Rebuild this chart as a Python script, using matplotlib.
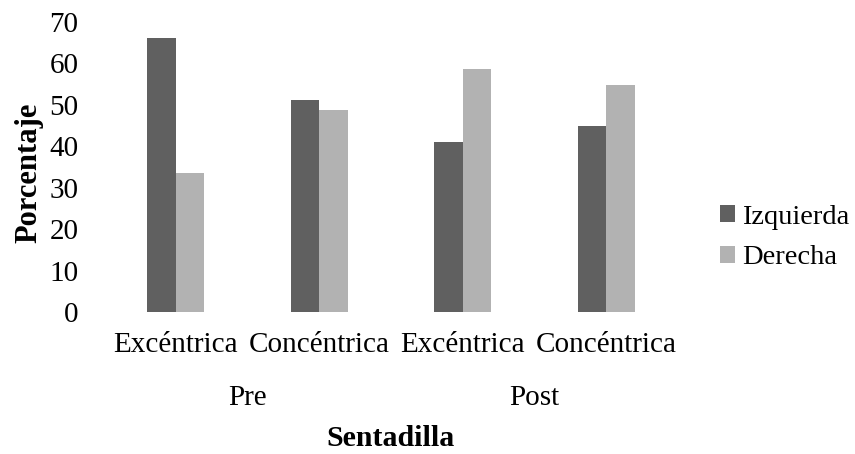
import numpy as np
import matplotlib.pyplot as plt

plt.rcParams['font.family'] = ['Liberation Serif', 'DejaVu Serif']

categories = ["Excéntrica", "Concéntrica", "Excéntrica", "Concéntrica"]
phases = ["Pre", "Post"]
izquierda = [66.2, 51.1, 41.0, 44.9]
derecha = [33.5, 48.7, 58.6, 54.7]
series_names = ["Izquierda", "Derecha"]
yticks = [0, 10, 20, 30, 40, 50, 60, 70]

dark = "#606060"
light = "#b2b2b2"

fig = plt.figure(figsize=(8.55, 4.54), dpi=100)
ax = fig.add_axes([0.1216, 0.3121, 0.6714, 0.640])

x = np.arange(len(categories))
w = 0.2
ax.bar(x - w / 2, izquierda, w, color=dark, label=series_names[0])
ax.bar(x + w / 2, derecha, w, color=light, label=series_names[1])

ax.set_xlim(-0.5, len(categories) - 0.5)
ax.set_ylim(0, 70)
ax.set_yticks(yticks)
ax.set_xticks(x)
ax.set_xticklabels(categories)
ax.tick_params(axis='both', length=0, labelsize=21)
ax.tick_params(axis='y', pad=18.5)
ax.tick_params(axis='x', pad=14)
for s in ax.spines.values():
    s.set_visible(False)

# second level of the category axis: centred under each pair of categories
for i, name in enumerate(phases):
    mid = (x[2 * i] + x[2 * i + 1]) / 2
    ax.annotate(name, xy=(mid, 0), xycoords=('data', 'axes fraction'),
                xytext=(0, -62), textcoords='offset points',
                ha='center', va='center', fontsize=21)

fig.text(0.1216 + 0.6714 / 2, 1 - 438 / 454, "Sentadilla", ha='center',
         va='center', fontsize=21.5, fontweight='bold')
fig.text(29 / 855, 1 - 172.5 / 454, "Porcentaje", ha='center', va='center',
         rotation=90, fontsize=22, fontweight='bold')

ax.legend(loc='center left', bbox_to_anchor=(0.842, 0.477),
          bbox_transform=fig.transFigure, frameon=False, borderpad=0,
          borderaxespad=0, fontsize=20.5, handlelength=0.53, handleheight=0.53,
          handletextpad=0.25, labelspacing=0.55)

fig.savefig("out.png", dpi=100)
